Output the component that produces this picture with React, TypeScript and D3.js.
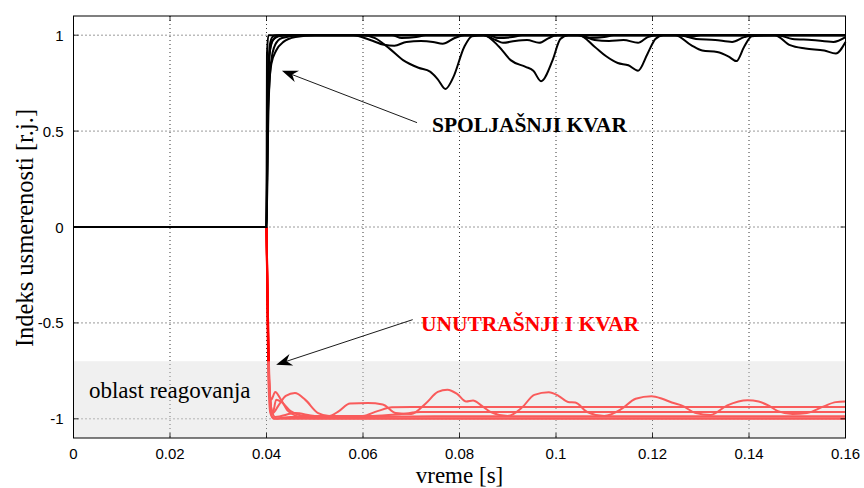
import React from "react";
import * as d3 from "d3";

type Pt = [number, number];

const xTicks = [0, 0.02, 0.04, 0.06, 0.08, 0.1, 0.12, 0.14, 0.16];
const xTickLabels = ["0", "0.02", "0.04", "0.06", "0.08", "0.1", "0.12", "0.14", "0.16"];
const yTicks = [-1, -0.5, 0, 0.5, 1];
const yTickLabels = ["-1", "-0.5", "0", "0.5", "1"];

// external fault (black)
const ext1: Pt[] = [[0,0],[0.04,0],[0.0403,0.7],[0.0407,0.95],[0.0412,0.99],[0.042,1],[0.06,1],[0.0625,0.985],[0.0655,0.93],[0.0683,0.87],[0.0715,0.83],[0.0739,0.81],[0.0755,0.77],[0.0771,0.72],[0.0787,0.78],[0.081,0.94],[0.0826,0.995],[0.085,1],[0.0882,0.94],[0.0906,0.87],[0.0937,0.835],[0.0953,0.815],[0.0969,0.76],[0.0993,0.87],[0.1009,0.98],[0.1025,1],[0.1048,1],[0.108,0.94],[0.1104,0.89],[0.1128,0.855],[0.115,0.843],[0.117,0.815],[0.119,0.905],[0.1206,0.98],[0.1222,1],[0.1247,1],[0.128,0.948],[0.1303,0.92],[0.1334,0.912],[0.1358,0.888],[0.1374,0.865],[0.139,0.94],[0.1406,0.995],[0.1453,1],[0.1485,0.948],[0.1517,0.93],[0.1556,0.92],[0.158,0.905],[0.16,0.965]];
const ext2: Pt[] = [[0,0],[0.04,0],[0.0403,0.75],[0.0408,0.93],[0.0415,0.98],[0.043,1],[0.058,1],[0.0615,0.975],[0.0644,0.95],[0.0665,0.945],[0.069,0.965],[0.072,0.97],[0.0745,0.965],[0.0765,0.955],[0.079,0.985],[0.081,1],[0.085,1],[0.0875,0.975],[0.089,0.96],[0.0915,0.97],[0.094,0.975],[0.0965,0.96],[0.0985,0.985],[0.1,1],[0.105,1],[0.108,0.975],[0.111,0.97],[0.114,0.975],[0.117,0.96],[0.119,0.99],[0.121,1],[0.1255,1],[0.129,0.98],[0.133,0.975],[0.1365,0.965],[0.139,0.99],[0.141,1],[0.146,1],[0.149,0.98],[0.153,0.975],[0.1575,0.965],[0.16,0.99]];
const ext3: Pt[] = [[0,0],[0.04,0],[0.0402,0.6],[0.0406,0.9],[0.0412,0.97],[0.0425,0.995],[0.045,1],[0.066,1],[0.068,0.985],[0.071,0.99],[0.073,1],[0.086,1],[0.088,0.985],[0.091,0.99],[0.093,1],[0.1045,1],[0.107,0.985],[0.11,0.99],[0.112,1],[0.126,1],[0.128,0.99],[0.13,1],[0.16,1]];
const ext4: Pt[] = [[0,0],[0.04,0],[0.0402,0.5],[0.0406,0.75],[0.041,0.85],[0.042,0.92],[0.0435,0.965],[0.046,0.99],[0.05,1],[0.16,1]];
const ext5: Pt[] = [[0,0],[0.04,0],[0.0401,0.9],[0.0404,1],[0.16,1]];
const ext6: Pt[] = [[0,0],[0.04,0],[0.0404,0.6],[0.0409,0.85],[0.0418,0.95],[0.0432,0.985],[0.047,1],[0.16,1]];

// internal fault (red)
const int1: Pt[] = [[0.04,0],[0.0404,-0.6],[0.0408,-0.9],[0.0413,-0.97],[0.0425,-0.93],[0.044,-0.88],[0.0459,-0.866],[0.048,-0.9],[0.0507,-0.97],[0.053,-0.985],[0.055,-0.96],[0.0573,-0.92],[0.061,-0.918],[0.0641,-0.925],[0.0668,-0.97],[0.07,-0.975],[0.073,-0.92],[0.0755,-0.86],[0.0775,-0.848],[0.0795,-0.87],[0.0814,-0.91],[0.0828,-0.905],[0.0845,-0.93],[0.0865,-0.965],[0.09,-0.985],[0.093,-0.94],[0.0955,-0.875],[0.0985,-0.862],[0.1005,-0.88],[0.1025,-0.912],[0.104,-0.915],[0.1065,-0.965],[0.11,-0.985],[0.1135,-0.95],[0.1165,-0.895],[0.1198,-0.882],[0.122,-0.895],[0.124,-0.915],[0.126,-0.93],[0.129,-0.97],[0.132,-0.98],[0.1355,-0.93],[0.1397,-0.903],[0.142,-0.91],[0.144,-0.93],[0.146,-0.96],[0.149,-0.975],[0.152,-0.97],[0.1555,-0.935],[0.158,-0.913],[0.16,-0.91]];
const int2: Pt[] = [[0.04,0],[0.0404,-0.7],[0.0409,-0.93],[0.0413,-0.97],[0.042,-0.9],[0.043,-0.91],[0.045,-0.96],[0.048,-0.985],[0.055,-0.99],[0.06,-0.985],[0.063,-0.96],[0.066,-0.94],[0.07,-0.938],[0.16,-0.938]];
const int3: Pt[] = [[0.04,0],[0.0405,-0.75],[0.041,-0.95],[0.0418,-0.99],[0.046,-0.97],[0.05,-0.985],[0.062,-0.985],[0.068,-0.975],[0.072,-0.965],[0.16,-0.965]];
const int4: Pt[] = [[0.04,0],[0.0404,-0.8],[0.0408,-0.97],[0.0415,-1],[0.045,-0.99],[0.06,-0.99],[0.075,-0.986],[0.16,-0.986]];
const int5: Pt[] = [[0.04,0],[0.0406,-0.85],[0.0412,-0.99],[0.042,-1.0],[0.16,-1.0]];
const int6: Pt[] = [[0.04,0],[0.0403,-0.65],[0.0407,-0.88],[0.041,-0.9],[0.0418,-0.86],[0.043,-0.9],[0.0445,-0.96],[0.047,-0.99],[0.05,-0.997],[0.16,-0.997]];

const externalSeries = [ext1, ext2, ext3, ext4, ext5, ext6];
const internalSeries = [int1, int2, int3, int4, int5, int6];

const zoneTop = -0.7;

const W = 864, H = 488;
const M = { left: 73.5, right: 845.5, top: 16, bottom: 438 };
const SERIF = "'Liberation Serif', 'Times New Roman', serif";

export default function App() {
  const x = d3.scaleLinear().domain([0, 0.16]).range([M.left, M.right]);
  const y = d3.scaleLinear().domain([-1.1, 1.1]).range([M.bottom, M.top]);
  const line = d3.line<Pt>().x(d => x(d[0])).y(d => y(d[1])).curve(d3.curveMonotoneX);

  const arrow = (tail: Pt, tip: Pt) => {
    const x1 = x(tail[0]), y1 = y(tail[1]), x2 = x(tip[0]), y2 = y(tip[1]);
    const ang = Math.atan2(y2 - y1, x2 - x1);
    const L = 16, Wd = 6, notch = 11;
    const ux = Math.cos(ang), uy = Math.sin(ang);
    const px = -uy, py = ux;
    const bx = x2 - ux * L, by = y2 - uy * L;
    const nx = x2 - ux * notch, ny = y2 - uy * notch;
    const pts = [[x2, y2], [bx + px * Wd, by + py * Wd], [nx, ny], [bx - px * Wd, by - py * Wd]];
    return (
      <g>
        <line x1={x1} y1={y1} x2={nx} y2={ny} stroke="#000" strokeWidth={0.9} />
        <polygon points={pts.map(p => p.join(",")).join(" ")} fill="#000" />
      </g>
    );
  };

  const tickLen = 5;

  return (
    <svg width={W} height={H} style={{ position: "absolute", left: 0, top: 0, background: "#fff" }}>
      <rect x={0} y={0} width={W} height={H} fill="#fff" />
      <rect x={M.left} y={y(zoneTop)} width={M.right - M.left} height={M.bottom - y(zoneTop)} fill="#f0f0f0" />
      {/* grid */}
      <g stroke="#000" strokeWidth={0.8} strokeDasharray="1,3">
        {xTicks.slice(1, -1).map((t, i) => (
          <line key={"gx" + i} x1={x(t)} x2={x(t)} y1={M.top} y2={M.bottom} />
        ))}
        {yTicks.map((t, i) => (
          <line key={"gy" + i} x1={M.left} x2={M.right} y1={y(t)} y2={y(t)} />
        ))}
      </g>
      {/* curves */}
      <g fill="none" strokeWidth={2} strokeLinejoin="round">
        {internalSeries.map((s, i) => (
          <path key={"i" + i} d={line(s) || ""} stroke="#ff0000" />
        ))}
        {externalSeries.map((s, i) => (
          <path key={"e" + i} d={line(s) || ""} stroke="#000" />
        ))}
      </g>
      <rect x={M.left} y={y(zoneTop)} width={M.right - M.left} height={M.bottom - y(zoneTop)} fill="#f0f0f0" opacity={0.38} />
      {/* frame and ticks */}
      <rect x={M.left} y={M.top} width={M.right - M.left} height={M.bottom - M.top} fill="none" stroke="#000" strokeWidth={1} />
      <g stroke="#000" strokeWidth={0.8}>
        {xTicks.map((t, i) => (
          <g key={"tx" + i}>
            <line x1={x(t)} x2={x(t)} y1={M.bottom} y2={M.bottom - tickLen} />
            <line x1={x(t)} x2={x(t)} y1={M.top} y2={M.top + tickLen} />
          </g>
        ))}
        {yTicks.map((t, i) => (
          <g key={"ty" + i}>
            <line x1={M.left} x2={M.left + tickLen} y1={y(t)} y2={y(t)} />
            <line x1={M.right} x2={M.right - tickLen} y1={y(t)} y2={y(t)} />
          </g>
        ))}
      </g>
      <g fontFamily="'Liberation Sans', Arial, sans-serif" fontSize={15} fill="#000">
        {xTicks.map((t, i) => (
          <text key={"lx" + i} x={x(t)} y={M.bottom + 21} textAnchor="middle">{xTickLabels[i]}</text>
        ))}
        {yTicks.map((t, i) => (
          <text key={"ly" + i} x={M.left - 10} y={y(t)} textAnchor="end" dominantBaseline="central">{yTickLabels[i]}</text>
        ))}
      </g>
      <text x={(M.left + M.right) / 2} y={H - 5} textAnchor="middle" fontFamily={SERIF} fontSize={23}>vreme [s]</text>
      <text transform={`translate(24, ${(M.top + M.bottom) / 2 + 1}) rotate(-90)`} textAnchor="middle" dominantBaseline="central" fontFamily={SERIF} fontSize={24.5}>Indeks usmerenosti [r.j.]</text>
      {/* annotations */}
      <text x={x(0.0032)} y={y(-0.89)} fontFamily={SERIF} fontSize={23}>oblast reagovanja</text>
      <text x={x(0.0743)} y={y(0.495)} fontFamily={SERIF} fontSize={21.5} fontWeight="bold">SPOLJAŠNJI KVAR</text>
      <text x={x(0.072)} y={y(-0.542)} fontFamily={SERIF} fontSize={21.5} fontWeight="bold" fill="#ff0000">UNUTRAŠNJI I KVAR</text>
      {arrow([0.0712, 0.544], [0.0432, 0.815])}
      {arrow([0.0703, -0.483], [0.042, -0.718])}
    </svg>
  );
}
